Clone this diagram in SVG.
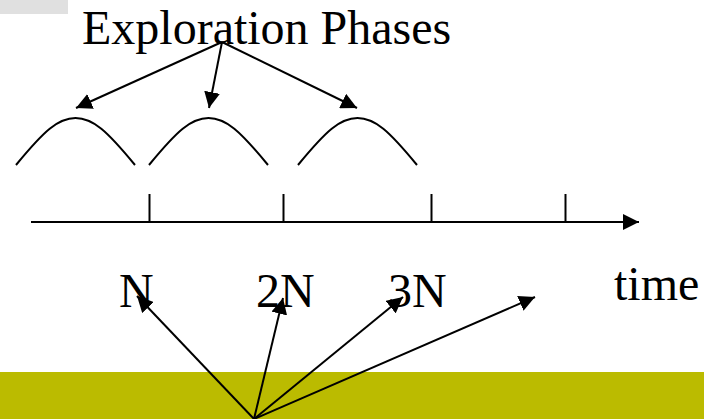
<svg xmlns="http://www.w3.org/2000/svg" width="704" height="419" viewBox="0 0 704 419">
<defs>
<style>
.t{font-family:"Liberation Serif","Times New Roman",serif;font-size:48px;fill:#000}
.ln{stroke:#000;stroke-width:2;fill:none}
</style>
<marker id="ah" markerUnits="userSpaceOnUse" markerWidth="16" markerHeight="16" viewBox="0 0 16 16" refX="16" refY="8" orient="auto">
<path d="M0,0 L16,8 L0,16 Z" fill="#000"/>
</marker>
</defs>
<rect x="0" y="0" width="68" height="14" fill="#e0e0e0"/>
<rect x="0" y="372" width="704" height="47" fill="#bbbb00"/>
<g id="title"><text class="t" x="82" y="44">Exploration Phases</text></g>
<g id="phase1"><path class="ln" d="M16,165 C44,131 58,118 75.5,118 C93,118 107,131 135,165"/></g>
<g id="phase2"><path class="ln" d="M149,165 C177,131 191,118 208.5,118 C226,118 240,131 268,165"/></g>
<g id="phase3"><path class="ln" d="M298,165 C326,131 340,118 357.5,118 C375,118 389,131 417,165"/></g>
<g id="axis">
<line class="ln" x1="31" y1="222" x2="639" y2="222" marker-end="url(#ah)"/>
<line class="ln" x1="149.5" y1="194" x2="149.5" y2="222"/>
<line class="ln" x1="283.5" y1="194" x2="283.5" y2="222"/>
<line class="ln" x1="431.5" y1="194" x2="431.5" y2="222"/>
<line class="ln" x1="565.5" y1="194" x2="565.5" y2="222"/>
</g>
<g id="lblN"><text class="t" x="119" y="307">N</text></g>
<g id="lbl2N"><text class="t" x="256" y="307">2N</text></g>
<g id="lbl3N"><text class="t" x="388" y="307">3N</text></g>
<g id="lblTime"><text class="t" x="614" y="300">time</text></g>
<g id="connectors">
<line class="ln" x1="222" y1="42" x2="76" y2="108" marker-end="url(#ah)"/>
<line class="ln" x1="222" y1="42" x2="209" y2="108" marker-end="url(#ah)"/>
<line class="ln" x1="222" y1="42" x2="357" y2="108" marker-end="url(#ah)"/>
<line class="ln" x1="254" y1="419" x2="137" y2="296" marker-end="url(#ah)"/>
<line class="ln" x1="254" y1="419" x2="283" y2="298" marker-end="url(#ah)"/>
<line class="ln" x1="254" y1="419" x2="403" y2="297" marker-end="url(#ah)"/>
<line class="ln" x1="254" y1="419" x2="535" y2="297" marker-end="url(#ah)"/>
</g>
</svg>
